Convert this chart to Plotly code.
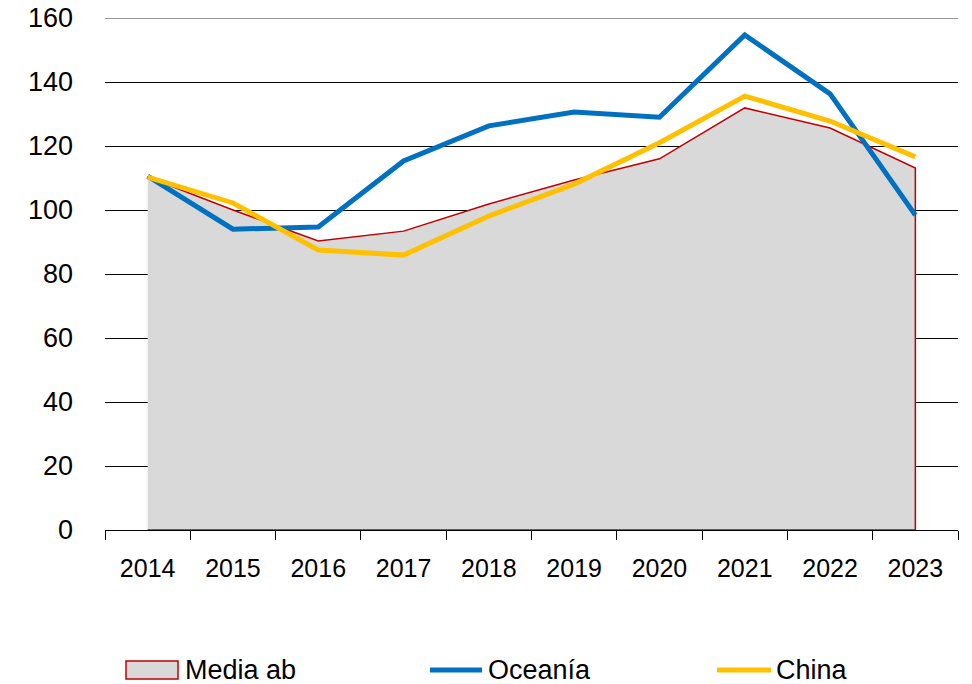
import plotly.graph_objects as go

years = ["2014", "2015", "2016", "2017", "2018", "2019", "2020", "2021", "2022", "2023"]
media_ab = [110.3, 100.0, 90.3, 93.4, 101.9, 109.4, 116.0, 131.9, 125.6, 113.1]
oceania = [110.6, 94.0, 94.7, 115.3, 126.3, 130.6, 129.0, 154.7, 136.3, 98.4]
china = [110.3, 102.2, 87.5, 85.9, 98.1, 108.1, 121.0, 135.6, 127.8, 116.6]
y_ticks = [0, 20, 40, 60, 80, 100, 120, 140, 160]

FONT = "Liberation Sans, Arial, sans-serif"
W, H = 972, 684
L, R, T, B = 105, 14, 18, 154
PW, PH = W - L - R, H - T - B


def px(x):
    return (x - L) / PW


def py(y):
    return (H - B - y) / PH


fig = go.Figure()
fig.add_trace(go.Scatter(
    x=years + [years[-1], years[0]],
    y=media_ab + [0, 0],
    name="Media ab", mode="lines", fill="toself",
    fillcolor="#D9D9D9", line=dict(color="#C00000", width=1.5),
    hoverinfo="skip", showlegend=False,
))
fig.add_trace(go.Scatter(
    x=years, y=oceania, name="Oceanía", mode="lines",
    line=dict(color="#0070C0", width=5), showlegend=False,
))
fig.add_trace(go.Scatter(
    x=years, y=china, name="China", mode="lines",
    line=dict(color="#FFC000", width=5), showlegend=False,
))

# manual legend (symbols + text)
leg_y = 670
shapes = [
    # top gridline (at the range edge, where plotly omits it)
    dict(type="line", xref="paper", yref="y", x0=0, x1=1,
         y0=y_ticks[-1], y1=y_ticks[-1], layer="below",
         line=dict(color="#333333", width=1.2)),
    dict(type="rect", xref="paper", yref="paper",
         x0=px(126), x1=px(178), y0=py(661), y1=py(679),
         fillcolor="#D9D9D9", line=dict(color="#C00000", width=1.5)),
    dict(type="line", xref="paper", yref="paper",
         x0=px(430), x1=px(482), y0=py(leg_y), y1=py(leg_y),
         line=dict(color="#0070C0", width=5)),
    dict(type="line", xref="paper", yref="paper",
         x0=px(717), x1=px(771), y0=py(leg_y), y1=py(leg_y),
         line=dict(color="#FFC000", width=5)),
]
annotations = []
for name, xpos in [("Media ab", 183), ("Oceanía", 486), ("China", 774)]:
    annotations.append(dict(
        text=name, xref="paper", yref="paper", x=px(xpos), y=py(leg_y),
        xanchor="left", yanchor="middle", showarrow=False,
        font=dict(family=FONT, size=27, color="#000000"),
    ))

fig.update_layout(
    width=W, height=H,
    margin=dict(l=L, r=R, t=T, b=B, autoexpand=False),
    paper_bgcolor="white", plot_bgcolor="white",
    showlegend=False,
    shapes=shapes, annotations=annotations,
    xaxis=dict(
        type="category", range=[-0.5, 9.5], tickson="boundaries",
        showgrid=False, showline=True, linecolor="#000000", linewidth=1,
        ticks="outside", ticklen=9, tickcolor="#000000", tickwidth=1,
        ticklabelstandoff=16,
        tickfont=dict(family=FONT, size=25, color="#000000"),
    ),
    yaxis=dict(
        range=[0, 160], tickvals=y_ticks, showgrid=True,
        gridcolor="#000000", gridwidth=1, zeroline=False, showline=False,
        ticks="", ticklabelstandoff=31,
        tickfont=dict(family=FONT, size=27, color="#000000"),
    ),
)
fig.write_html(
    "out.html",
    config={"displayModeBar": False},
    post_script="document.body.style.margin='0';document.body.style.overflow='hidden';",
)
